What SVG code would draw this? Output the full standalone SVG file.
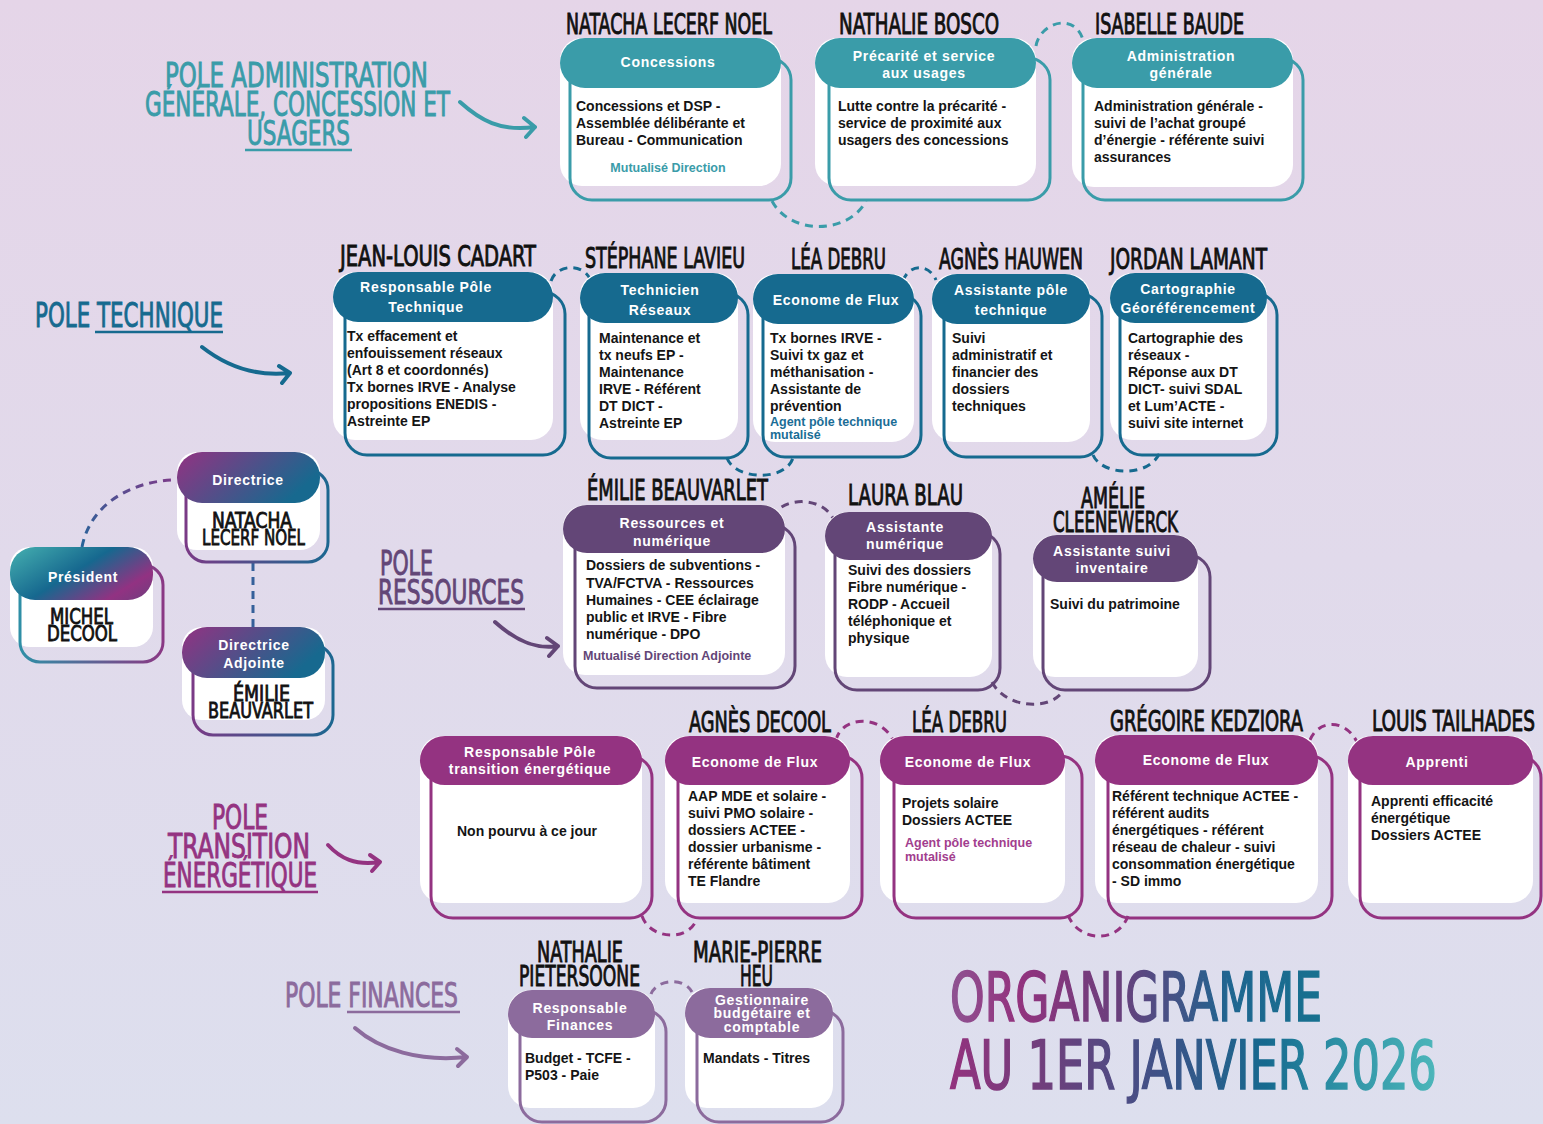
<svg xmlns="http://www.w3.org/2000/svg" width="1543" height="1124" viewBox="0 0 1543 1124">
<defs>
<linearGradient id="bg" x1="0" y1="0" x2="0" y2="1">
<stop offset="0" stop-color="#e5d5e8"/><stop offset="1" stop-color="#dddfee"/>
</linearGradient>
<linearGradient id="gPres" x1="0" y1="0.2" x2="1" y2="0.8">
<stop offset="0" stop-color="#3ea5ab"/><stop offset="0.45" stop-color="#16688f"/><stop offset="0.85" stop-color="#923282"/><stop offset="1" stop-color="#7b3a80"/>
</linearGradient>
<linearGradient id="gDir" x1="0" y1="0" x2="1" y2="0.4">
<stop offset="0" stop-color="#933282"/><stop offset="1" stop-color="#17698f"/>
</linearGradient>
<linearGradient id="gPresO" x1="0" y1="0" x2="1" y2="0">
<stop offset="0" stop-color="#2f8fa6"/><stop offset="1" stop-color="#8a3884"/>
</linearGradient>
<linearGradient id="gDirO" x1="0" y1="0" x2="1" y2="0">
<stop offset="0" stop-color="#7a3a86"/><stop offset="1" stop-color="#1c6790"/>
</linearGradient>
<linearGradient id="gT1" x1="0" y1="0" x2="1" y2="0">
<stop offset="0" stop-color="#8e5392"/><stop offset="0.18" stop-color="#93327e"/><stop offset="0.45" stop-color="#6a3f7c"/><stop offset="0.75" stop-color="#1f6590"/><stop offset="1" stop-color="#17718f"/>
</linearGradient>
<linearGradient id="gT2" x1="0" y1="0" x2="1" y2="0">
<stop offset="0" stop-color="#93327e"/><stop offset="0.2" stop-color="#6e3f7c"/><stop offset="0.45" stop-color="#3a5388"/><stop offset="0.65" stop-color="#166a8f"/><stop offset="0.78" stop-color="#2a8da3"/><stop offset="1" stop-color="#4cb6ba"/>
</linearGradient>
<linearGradient id="gDash" x1="0" y1="1" x2="1" y2="0">
<stop offset="0" stop-color="#26659a"/><stop offset="1" stop-color="#7a3d8a"/>
</linearGradient>
</defs>
<style>
.wb{fill:#fff}
.o{fill:none;stroke-width:3}
.c-adm{fill:#3a9ca9}.s-adm{stroke:#3a9ca9}
.c-tec{fill:#166a8f}.s-tec{stroke:#166a8f}
.c-res{fill:#634677}.s-res{stroke:#634677}
.c-tra{fill:#943381}.s-tra{stroke:#943381}
.c-fin{fill:#8c6b9d}.s-fin{stroke:#8c6b9d}
.ph{font-family:"Liberation Sans",Arial,sans-serif;font-weight:bold;font-size:14px;fill:#fff;text-anchor:middle;letter-spacing:0.7px}
.bt{font-family:"Liberation Sans",Arial,sans-serif;font-weight:bold;font-size:14px;fill:#141414}
.note{font-family:"Liberation Sans",Arial,sans-serif;font-weight:bold;font-size:12.5px}
.nm{font-family:"DejaVu Sans Condensed","DejaVu Sans",sans-serif;font-size:28px;fill:#111;stroke:#111;stroke-width:0.9}
.dn{font-family:"DejaVu Sans Condensed","DejaVu Sans",sans-serif;font-size:21px;fill:#111;stroke:#111;stroke-width:0.8}
.pl{font-family:"DejaVu Sans Condensed","DejaVu Sans",sans-serif;font-size:33px;stroke-width:0.9}
.ttl{font-family:"DejaVu Sans Condensed","DejaVu Sans",sans-serif;font-size:68px;stroke-width:1.6}
.dash{fill:none;stroke-width:3;stroke-dasharray:8 6}
.arr{fill:none;stroke-width:4;stroke-linecap:round;stroke-linejoin:round}
.ul{stroke-width:2.5}
</style>
<rect x="0" y="0" width="1543" height="1124" fill="url(#bg)"/>

<g id="connectors">
<path class="dash s-adm" d="M772,201 C790,235 848,235 866,201"/>
<path class="dash s-adm" d="M1036,46 C1040,22 1075,12 1083,40"/>
<path class="dash s-tec" d="M551,281 C556,265 582,262 590,279"/>
<path class="dash s-tec" d="M727,458 C735,480 785,482 793,458"/>
<path class="dash s-tec" d="M903,281 C908,265 928,262 936,280"/>
<path class="dash s-tec" d="M1093,455 C1102,476 1150,478 1160,452"/>
<path class="dash s-res" d="M772,517 C782,497 822,495 834,520"/>
<path class="dash s-res" d="M992,682 C1005,708 1050,712 1064,690"/>
<path class="dash s-tra" d="M642,916 C650,940 690,942 697,918"/>
<path class="dash s-tra" d="M836,740 C842,716 880,714 893,740"/>
<path class="dash s-tra" d="M1068,915 C1078,942 1118,944 1128,916"/>
<path class="dash s-tra" d="M1310,740 C1318,720 1345,718 1357,742"/>
<path class="dash s-fin" d="M651,994 C656,980 683,976 692,992"/>
<path class="dash" stroke="url(#gDash)" d="M82,547 C90,505 130,482 172,480"/>
<path class="dash" stroke="#35609a" d="M253,563 L253,627"/>
</g>

<g id="labels">
<g fill="#3a9ca9" stroke="#3a9ca9">
<text class="pl" x="165" y="87" textLength="263" lengthAdjust="spacingAndGlyphs">POLE ADMINISTRATION</text>
<text class="pl" x="145" y="116" textLength="305" lengthAdjust="spacingAndGlyphs">GÉNÉRALE, CONCESSION ET</text>
<text class="pl" x="247" y="145" textLength="103" lengthAdjust="spacingAndGlyphs">USAGERS</text>
</g>
<line class="ul s-adm" x1="245" y1="150" x2="352" y2="150"/>
<path class="arr s-adm" d="M460,102 C480,120 500,132 535,127 M524,118 L535,127 L526,137"/>

<g fill="#166a8f" stroke="#166a8f">
<text class="pl" x="35" y="327" textLength="188" lengthAdjust="spacingAndGlyphs">POLE TECHNIQUE</text>
</g>
<line class="ul s-tec" x1="95" y1="332" x2="223" y2="332"/>
<path class="arr s-tec" d="M202,347 C225,365 255,377 290,373 M279,366 L290,373 L282,383"/>

<g fill="#634677" stroke="#634677">
<text class="pl" x="380" y="575" textLength="53" lengthAdjust="spacingAndGlyphs">POLE</text>
<text class="pl" x="378" y="604" textLength="146" lengthAdjust="spacingAndGlyphs">RESSOURCES</text>
</g>
<line class="ul s-res" x1="378" y1="609" x2="525" y2="609"/>
<path class="arr s-res" d="M495,622 C515,640 535,650 558,646 M547,638 L558,646 L549,656"/>

<g fill="#943381" stroke="#943381">
<text class="pl" x="212" y="829" textLength="56" lengthAdjust="spacingAndGlyphs">POLE</text>
<text class="pl" x="168" y="858" textLength="142" lengthAdjust="spacingAndGlyphs">TRANSITION</text>
<text class="pl" x="163" y="887" textLength="154" lengthAdjust="spacingAndGlyphs">ÉNERGÉTIQUE</text>
</g>
<line class="ul s-tra" x1="162" y1="892" x2="318" y2="892"/>
<path class="arr s-tra" d="M328,845 C340,858 355,866 380,862 M370,855 L380,862 L372,871"/>

<g fill="#8c6b9d" stroke="#8c6b9d">
<text class="pl" x="285" y="1007" textLength="173" lengthAdjust="spacingAndGlyphs">POLE FINANCES</text>
</g>
<line class="ul s-fin" x1="347" y1="1012" x2="460" y2="1012"/>
<path class="arr s-fin" d="M355,1028 C380,1050 420,1062 467,1057 M457,1049 L467,1057 L458,1066"/>

<text class="ttl" fill="url(#gT1)" stroke="url(#gT1)" x="950" y="1021" textLength="372" lengthAdjust="spacingAndGlyphs">ORGANIGRAMME</text>
<text class="ttl" fill="url(#gT2)" stroke="url(#gT2)" transform="translate(950,1089) scale(0.731,1)" x="0" y="0">AU 1ER JANVIER 2026</text>
</g>

<!-- Direction -->
<g id="n-directrice">
<rect class="wb" x="177" y="452" width="143" height="98" rx="20"/>
<rect class="o" stroke="url(#gDirO)" x="186" y="470" width="142" height="92" rx="20"/>
<rect fill="url(#gDir)" x="177" y="452" width="143" height="51" rx="25"/>
<text class="ph" x="248" y="485">Directrice</text>
<text class="dn" x="212" y="528" textLength="80" lengthAdjust="spacingAndGlyphs">NATACHA</text>
<text class="dn" x="202" y="545" textLength="103" lengthAdjust="spacingAndGlyphs">LECERF NOEL</text>
</g>
<g id="n-president">
<rect class="wb" x="10" y="547" width="143" height="100" rx="20"/>
<rect class="o" stroke="url(#gPresO)" x="20" y="565" width="143" height="97" rx="20"/>
<rect fill="url(#gPres)" x="10" y="547" width="143" height="53" rx="25"/>
<text class="ph" x="83" y="582">Président</text>
<text class="dn" x="50" y="624" textLength="63" lengthAdjust="spacingAndGlyphs">MICHEL</text>
<text class="dn" x="47" y="641" textLength="70" lengthAdjust="spacingAndGlyphs">DECOOL</text>
</g>
<g id="n-directrice-adjointe">
<rect class="wb" x="182" y="627" width="143" height="93" rx="20"/>
<rect class="o" stroke="url(#gDirO)" x="193" y="645" width="140" height="90" rx="20"/>
<rect fill="url(#gDir)" x="182" y="627" width="143" height="51" rx="25"/>
<text class="ph" x="254" y="650">Directrice</text>
<text class="ph" x="254" y="668">Adjointe</text>
<text class="dn" x="233" y="701" textLength="57" lengthAdjust="spacingAndGlyphs">ÉMILIE</text>
<text class="dn" x="208" y="718" textLength="105" lengthAdjust="spacingAndGlyphs">BEAUVARLET</text>
</g>

<!-- Admin row -->
<g id="n-concessions">
<rect class="wb" x="560" y="38" width="221" height="148" rx="22"/>
<rect class="o s-adm" x="570" y="58" width="221" height="142" rx="22"/>
<rect class="c-adm" x="560" y="38" width="221" height="50" rx="25"/>
<text class="nm" x="566" y="34" textLength="206" lengthAdjust="spacingAndGlyphs">NATACHA LECERF NOEL</text>
<text class="ph" x="668" y="67">Concessions</text>
<text class="bt"><tspan x="576" y="111">Concessions et DSP -</tspan><tspan x="576" y="128">Assemblée délibérante et</tspan><tspan x="576" y="145">Bureau - Communication</tspan></text>
<text class="note" fill="#3a9ca9" x="668" y="172" text-anchor="middle">Mutualisé Direction</text>
</g>
<g id="n-precarite">
<rect class="wb" x="815" y="38" width="221" height="148" rx="22"/>
<rect class="o s-adm" x="829" y="58" width="221" height="142" rx="22"/>
<rect class="c-adm" x="815" y="38" width="221" height="50" rx="25"/>
<text class="nm" x="839" y="34" textLength="160" lengthAdjust="spacingAndGlyphs">NATHALIE BOSCO</text>
<text class="ph" x="924" y="61">Précarité et service</text>
<text class="ph" x="924" y="78">aux usages</text>
<text class="bt"><tspan x="838" y="111">Lutte contre la précarité -</tspan><tspan x="838" y="128">service de proximité aux</tspan><tspan x="838" y="145">usagers des concessions</tspan></text>
</g>
<g id="n-administration">
<rect class="wb" x="1072" y="38" width="221" height="149" rx="22"/>
<rect class="o s-adm" x="1083" y="58" width="220" height="142" rx="22"/>
<rect class="c-adm" x="1072" y="38" width="221" height="50" rx="25"/>
<text class="nm" x="1095" y="34" textLength="149" lengthAdjust="spacingAndGlyphs">ISABELLE BAUDE</text>
<text class="ph" x="1181" y="61">Administration</text>
<text class="ph" x="1181" y="78">générale</text>
<text class="bt"><tspan x="1094" y="111">Administration générale -</tspan><tspan x="1094" y="128">suivi de l’achat groupé</tspan><tspan x="1094" y="145">d’énergie - référente suivi</tspan><tspan x="1094" y="162">assurances</tspan></text>
</g>

<!-- Technique row -->
<g id="n-resp-technique">
<rect class="wb" x="333" y="272" width="220" height="168" rx="22"/>
<rect class="o s-tec" x="345" y="292" width="220" height="163" rx="22"/>
<rect class="c-tec" x="333" y="272" width="220" height="50" rx="25"/>
<text class="nm" x="340" y="266" textLength="196" lengthAdjust="spacingAndGlyphs">JEAN-LOUIS CADART</text>
<text class="ph" x="426" y="292">Responsable Pôle</text>
<text class="ph" x="426" y="312">Technique</text>
<text class="bt"><tspan x="347" y="341">Tx effacement et</tspan><tspan x="347" y="358">enfouissement réseaux</tspan><tspan x="347" y="375">(Art 8 et coordonnés)</tspan><tspan x="347" y="392">Tx bornes IRVE - Analyse</tspan><tspan x="347" y="409">propositions ENEDIS -</tspan><tspan x="347" y="426">Astreinte EP</tspan></text>
</g>
<g id="n-technicien">
<rect class="wb" x="580" y="273" width="158" height="167" rx="22"/>
<rect class="o s-tec" x="589" y="293" width="159" height="165" rx="22"/>
<rect class="c-tec" x="580" y="273" width="158" height="50" rx="25"/>
<text class="nm" x="585" y="268" textLength="160" lengthAdjust="spacingAndGlyphs">STÉPHANE LAVIEU</text>
<text class="ph" x="660" y="295">Technicien</text>
<text class="ph" x="660" y="315">Réseaux</text>
<text class="bt"><tspan x="599" y="343">Maintenance et</tspan><tspan x="599" y="360">tx neufs EP -</tspan><tspan x="599" y="377">Maintenance</tspan><tspan x="599" y="394">IRVE - Référent</tspan><tspan x="599" y="411">DT DICT -</tspan><tspan x="599" y="428">Astreinte EP</tspan></text>
</g>
<g id="n-econome-tec">
<rect class="wb" x="753" y="274" width="161" height="168" rx="22"/>
<rect class="o s-tec" x="763" y="294" width="158" height="163" rx="22"/>
<rect class="c-tec" x="753" y="274" width="161" height="50" rx="25"/>
<text class="nm" x="791" y="269" textLength="95" lengthAdjust="spacingAndGlyphs">LÉA DEBRU</text>
<text class="ph" x="836" y="305">Econome de Flux</text>
<text class="bt"><tspan x="770" y="343">Tx bornes IRVE -</tspan><tspan x="770" y="360">Suivi tx gaz et</tspan><tspan x="770" y="377">méthanisation -</tspan><tspan x="770" y="394">Assistante de</tspan><tspan x="770" y="411">prévention</tspan></text>
<text class="note" fill="#1a6d96"><tspan x="770" y="426">Agent pôle technique</tspan><tspan x="770" y="439">mutalisé</tspan></text>
</g>
<g id="n-assistante-tec">
<rect class="wb" x="932" y="274" width="158" height="168" rx="22"/>
<rect class="o s-tec" x="944" y="294" width="158" height="163" rx="22"/>
<rect class="c-tec" x="932" y="274" width="158" height="50" rx="25"/>
<text class="nm" x="939" y="269" textLength="144" lengthAdjust="spacingAndGlyphs">AGNÈS HAUWEN</text>
<text class="ph" x="1011" y="295">Assistante pôle</text>
<text class="ph" x="1011" y="315">technique</text>
<text class="bt"><tspan x="952" y="343">Suivi</tspan><tspan x="952" y="360">administratif et</tspan><tspan x="952" y="377">financier des</tspan><tspan x="952" y="394">dossiers</tspan><tspan x="952" y="411">techniques</tspan></text>
</g>
<g id="n-cartographie">
<rect class="wb" x="1110" y="273" width="157" height="167" rx="22"/>
<rect class="o s-tec" x="1120" y="293" width="157" height="162" rx="22"/>
<rect class="c-tec" x="1110" y="273" width="157" height="50" rx="25"/>
<text class="nm" x="1110" y="269" textLength="157" lengthAdjust="spacingAndGlyphs">JORDAN LAMANT</text>
<text class="ph" x="1188" y="294">Cartographie</text>
<text class="ph" x="1188" y="313">Géoréférencement</text>
<text class="bt"><tspan x="1128" y="343">Cartographie des</tspan><tspan x="1128" y="360">réseaux -</tspan><tspan x="1128" y="377">Réponse aux DT</tspan><tspan x="1128" y="394">DICT- suivi SDAL</tspan><tspan x="1128" y="411">et Lum’ACTE -</tspan><tspan x="1128" y="428">suivi site internet</tspan></text>
</g>

<!-- Ressources row -->
<g id="n-ressources">
<rect class="wb" x="563" y="505" width="222" height="170" rx="22"/>
<rect class="o s-res" x="575" y="525" width="220" height="163" rx="22"/>
<rect class="c-res" x="563" y="505" width="222" height="48" rx="24"/>
<text class="nm" x="587" y="500" textLength="181" lengthAdjust="spacingAndGlyphs">ÉMILIE BEAUVARLET</text>
<text class="ph" x="672" y="528">Ressources et</text>
<text class="ph" x="672" y="546">numérique</text>
<text class="bt"><tspan x="586" y="570">Dossiers de subventions -</tspan><tspan x="586" y="588">TVA/FCTVA - Ressources</tspan><tspan x="586" y="605">Humaines - CEE éclairage</tspan><tspan x="586" y="622">public et IRVE - Fibre</tspan><tspan x="586" y="639">numérique - DPO</tspan></text>
<text class="note" fill="#634677" x="583" y="660">Mutualisé Direction Adjointe</text>
</g>
<g id="n-assistante-num">
<rect class="wb" x="825" y="512" width="167" height="165" rx="22"/>
<rect class="o s-res" x="835" y="532" width="165" height="158" rx="22"/>
<rect class="c-res" x="825" y="512" width="167" height="48" rx="24"/>
<text class="nm" x="848" y="505" textLength="115" lengthAdjust="spacingAndGlyphs">LAURA BLAU</text>
<text class="ph" x="905" y="532">Assistante</text>
<text class="ph" x="905" y="549">numérique</text>
<text class="bt"><tspan x="848" y="575">Suivi des dossiers</tspan><tspan x="848" y="592">Fibre numérique -</tspan><tspan x="848" y="609">RODP - Accueil</tspan><tspan x="848" y="626">téléphonique et</tspan><tspan x="848" y="643">physique</tspan></text>
</g>
<g id="n-assistante-inv">
<rect class="wb" x="1033" y="535" width="165" height="142" rx="22"/>
<rect class="o s-res" x="1043" y="555" width="167" height="135" rx="22"/>
<rect class="c-res" x="1033" y="535" width="165" height="47" rx="24"/>
<text class="nm" x="1081" y="508" textLength="64" lengthAdjust="spacingAndGlyphs">AMÉLIE</text>
<text class="nm" x="1053" y="532" textLength="125" lengthAdjust="spacingAndGlyphs">CLEENEWERCK</text>
<text class="ph" x="1112" y="556">Assistante suivi</text>
<text class="ph" x="1112" y="573">inventaire</text>
<text class="bt" x="1050" y="609">Suivi du patrimoine</text>
</g>

<!-- Transition row -->
<g id="n-resp-transition">
<rect class="wb" x="420" y="736" width="222" height="167" rx="22"/>
<rect class="o s-tra" x="431" y="756" width="221" height="162" rx="22"/>
<rect class="c-tra" x="420" y="736" width="222" height="49" rx="25"/>
<text class="ph" x="530" y="757">Responsable Pôle</text>
<text class="ph" x="530" y="774">transition énergétique</text>
<text class="bt" x="457" y="836">Non pourvu à ce jour</text>
</g>
<g id="n-econome-decool">
<rect class="wb" x="665" y="736" width="185" height="167" rx="22"/>
<rect class="o s-tra" x="678" y="756" width="184" height="162" rx="22"/>
<rect class="c-tra" x="665" y="736" width="185" height="49" rx="25"/>
<text class="nm" x="689" y="732" textLength="142" lengthAdjust="spacingAndGlyphs">AGNÈS DECOOL</text>
<text class="ph" x="755" y="767">Econome de Flux</text>
<text class="bt"><tspan x="688" y="801">AAP MDE et solaire -</tspan><tspan x="688" y="818">suivi PMO solaire -</tspan><tspan x="688" y="835">dossiers ACTEE -</tspan><tspan x="688" y="852">dossier urbanisme -</tspan><tspan x="688" y="869">référente bâtiment</tspan><tspan x="688" y="886">TE Flandre</tspan></text>
</g>
<g id="n-econome-debru">
<rect class="wb" x="880" y="736" width="185" height="167" rx="22"/>
<rect class="o s-tra" x="894" y="756" width="188" height="162" rx="22"/>
<rect class="c-tra" x="880" y="736" width="185" height="49" rx="25"/>
<text class="nm" x="912" y="732" textLength="95" lengthAdjust="spacingAndGlyphs">LÉA DEBRU</text>
<text class="ph" x="968" y="767">Econome de Flux</text>
<text class="bt"><tspan x="902" y="808">Projets solaire</tspan><tspan x="902" y="825">Dossiers ACTEE</tspan></text>
<text class="note" fill="#a23d8e"><tspan x="905" y="847">Agent pôle technique</tspan><tspan x="905" y="861">mutalisé</tspan></text>
</g>
<g id="n-econome-kedziora">
<rect class="wb" x="1095" y="735" width="223" height="168" rx="22"/>
<rect class="o s-tra" x="1108" y="756" width="224" height="162" rx="22"/>
<rect class="c-tra" x="1095" y="735" width="223" height="50" rx="25"/>
<text class="nm" x="1110" y="731" textLength="193" lengthAdjust="spacingAndGlyphs">GRÉGOIRE KEDZIORA</text>
<text class="ph" x="1206" y="765">Econome de Flux</text>
<text class="bt"><tspan x="1112" y="801">Référent technique ACTEE -</tspan><tspan x="1112" y="818">référent audits</tspan><tspan x="1112" y="835">énergétiques - référent</tspan><tspan x="1112" y="852">réseau de chaleur - suivi</tspan><tspan x="1112" y="869">consommation énergétique</tspan><tspan x="1112" y="886">- SD immo</tspan></text>
</g>
<g id="n-apprenti">
<rect class="wb" x="1348" y="736" width="185" height="167" rx="22"/>
<rect class="o s-tra" x="1360" y="756" width="181" height="162" rx="22"/>
<rect class="c-tra" x="1348" y="736" width="185" height="49" rx="25"/>
<text class="nm" transform="translate(1372,731) scale(0.734,1)" x="0" y="0">LOUIS TAILHADES</text>
<text class="ph" x="1437" y="767">Apprenti</text>
<text class="bt"><tspan x="1371" y="806">Apprenti efficacité</tspan><tspan x="1371" y="823">énergétique</tspan><tspan x="1371" y="840">Dossiers ACTEE</tspan></text>
</g>

<!-- Finances row -->
<g id="n-resp-finances">
<rect class="wb" x="508" y="990" width="147" height="118" rx="22"/>
<rect class="o s-fin" x="520" y="1010" width="146" height="112" rx="22"/>
<rect class="c-fin" x="508" y="990" width="147" height="48" rx="24"/>
<text class="nm" x="537" y="962" textLength="86" lengthAdjust="spacingAndGlyphs">NATHALIE</text>
<text class="nm" x="519" y="986" textLength="121" lengthAdjust="spacingAndGlyphs">PIETERSOONE</text>
<text class="ph" x="580" y="1013">Responsable</text>
<text class="ph" x="580" y="1030">Finances</text>
<text class="bt"><tspan x="525" y="1063">Budget - TCFE -</tspan><tspan x="525" y="1080">P503 - Paie</tspan></text>
</g>
<g id="n-gestionnaire">
<rect class="wb" x="685" y="988" width="148" height="120" rx="22"/>
<rect class="o s-fin" x="697" y="1010" width="146" height="112" rx="22"/>
<rect class="c-fin" x="685" y="988" width="148" height="50" rx="25"/>
<text class="nm" x="693" y="962" textLength="129" lengthAdjust="spacingAndGlyphs">MARIE-PIERRE</text>
<text class="nm" x="740" y="986" textLength="33" lengthAdjust="spacingAndGlyphs">HEU</text>
<text class="ph" x="762" y="1005">Gestionnaire</text>
<text class="ph" x="762" y="1018">budgétaire et</text>
<text class="ph" x="762" y="1032">comptable</text>
<text class="bt" x="703" y="1063">Mandats - Titres</text>
</g>
</svg>
